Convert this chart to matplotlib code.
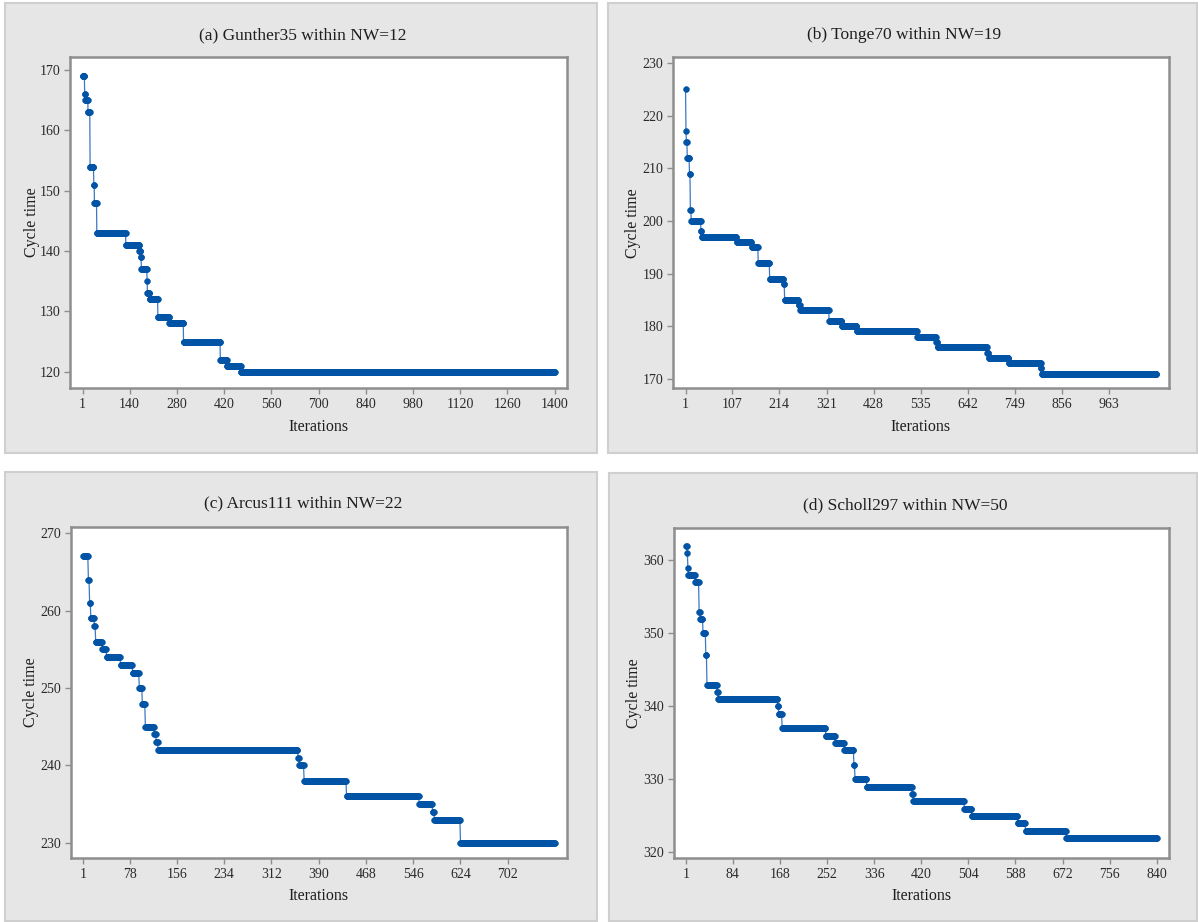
import numpy as np
import matplotlib
matplotlib.use("Agg")
import matplotlib.pyplot as plt
from matplotlib.patches import Rectangle

plt.rcParams['font.family'] = ['Liberation Serif', 'DejaVu Serif']

# ---------------- data (step levels: start iteration -> cycle time) ----------------
titles = ["(a) Gunther35 within NW=12", "(b) Tonge70 within NW=19",
          "(c) Arcus111 within NW=22", "(d) Scholl297 within NW=50"]

n_iter_a = 1400
starts_a = [1, 7, 9, 17, 23, 34, 36, 43, 129, 169, 173, 175, 192, 193, 200, 224, 258, 300, 409, 429, 470]
values_a = [169, 166, 165, 163, 154, 151, 148, 143, 141, 140, 139, 137, 135, 133, 132, 129, 128, 125, 122, 121, 120]
xticks_a = [1, 140, 280, 420, 560, 700, 840, 980, 1120, 1260, 1400]
yticks_a = [120, 130, 140, 150, 160, 170]

n_iter_b = 1070
starts_b = [1, 2, 3, 5, 10, 12, 14, 36, 38, 117, 151, 166, 192, 224, 226, 258, 261, 327, 356, 390,
            527, 570, 573, 686, 689, 735, 808, 810]
values_b = [225, 217, 215, 212, 209, 202, 200, 198, 197, 196, 195, 192, 189, 188, 185, 184, 183, 181, 180, 179,
            178, 177, 176, 175, 174, 173, 172, 171]
xticks_b = [1, 107, 214, 321, 428, 535, 642, 749, 856, 963]
yticks_b = [170, 180, 190, 200, 210, 220, 230]

n_iter_c = 780
starts_c = [1, 10, 12, 14, 20, 22, 33, 40, 63, 83, 94, 99, 104, 119, 122, 125, 356, 358, 366, 436,
            556, 578, 581, 624]
values_c = [267, 264, 261, 259, 258, 256, 255, 254, 253, 252, 250, 248, 245, 244, 243, 242, 241, 240, 238, 236,
            235, 234, 233, 230]
xticks_c = [1, 78, 156, 234, 312, 390, 468, 546, 624, 702]
yticks_c = [230, 240, 250, 260, 270]

n_iter_d = 840
starts_d = [1, 3, 4, 5, 17, 24, 26, 31, 36, 38, 56, 58, 164, 166, 172, 250, 267, 283, 300, 302,
            323, 404, 406, 497, 510, 592, 606, 679]
values_d = [362, 361, 359, 358, 357, 353, 352, 350, 347, 343, 342, 341, 340, 339, 337, 336, 335, 334, 332, 330,
            329, 328, 327, 326, 325, 324, 323, 322]
xticks_d = [1, 84, 168, 252, 336, 420, 504, 588, 672, 756, 840]
yticks_d = [320, 330, 340, 350, 360]

ylims = [(117.3, 172.2), (168.2, 231.1), (228.0, 270.85), (319.2, 364.4)]

# ---------------- layout (pixels) ----------------
W, H = 1198, 922
fig = plt.figure(figsize=(W / 100, H / 100), dpi=100)
fig.patch.set_facecolor('white')

def fx(px):
    return px / W

def fy(py):
    return 1 - py / H

panels = [(5, 3, 597, 453), (608, 3, 1197, 453), (5, 472, 597, 921), (609, 473, 1197, 921)]
axboxes = [(70.4, 56.7, 567, 388), (673.3, 57.3, 1168.7, 388.3),
           (70.7, 526.7, 567.3, 858.3), (674, 528.3, 1169, 858.3)]
title_y = [35, 35, 503, 505]
xlabel_y = [427, 427, 896, 896]
ylabel_x = [31.5, 633, 31, 634]

datasets = [(n_iter_a, starts_a, values_a, xticks_a, yticks_a),
            (n_iter_b, starts_b, values_b, xticks_b, yticks_b),
            (n_iter_c, starts_c, values_c, xticks_c, yticks_c),
            (n_iter_d, starts_d, values_d, xticks_d, yticks_d)]

mcolor = '#0053A5'
lcolor = '#3B79C3'
frame_col = '#8E8E8E'
txt_col = '#1E1E1E'

for i in range(4):
    l, t, r, b = panels[i]
    fig.add_artist(Rectangle((fx(l), fy(b)), (r - l) / W, (b - t) / H, transform=fig.transFigure,
                             facecolor='#E6E6E6', edgecolor='#CFCFCF', lw=1.5, zorder=0))

for i in range(4):
    n, starts, vals, xt, yt = datasets[i]
    al, at, ar, ab = axboxes[i]
    ax = fig.add_axes([fx(al), fy(ab), (ar - al) / W, (ab - at) / H])
    ax.set_facecolor('white')
    it = np.arange(1, n + 1)
    idx = np.searchsorted(np.array(starts), it, side='right') - 1
    y = np.array(vals)[idx]
    ax.plot(it, y, '-', color=lcolor, lw=0.9, zorder=2)
    ax.plot(it, y, 'o', color=mcolor, ms=4.3, mec=mcolor, mew=0.3, zorder=3, linestyle='none')
    span = n - 1
    ax.set_xlim(1 - 0.026 * span, n + 0.026 * span)
    ax.set_ylim(*ylims[i])
    ax.set_xticks(xt)
    ax.set_xticklabels([str(v) for v in xt])
    ax.set_yticks(yt)
    ax.set_yticklabels([str(v) for v in yt])
    for s in ax.spines.values():
        s.set_color(frame_col)
        s.set_linewidth(1.8)
    ax.tick_params(direction='out', length=4, width=1, color=frame_col, labelcolor='#2A2A2A',
                   labelsize=10, pad=3)
    cx = (panels[i][0] + panels[i][2]) / 2
    fig.text(fx(cx + 2), fy(title_y[i]), titles[i], ha='center', va='center', fontsize=12.5, color=txt_col)
    fig.text(fx((al + ar) / 2), fy(xlabel_y[i]), 'Iterations', ha='center', va='center', fontsize=11.5,
             color=txt_col)
    fig.text(fx(ylabel_x[i]), fy((at + ab) / 2), 'Cycle time', ha='center', va='center', rotation=90,
             fontsize=11.5, color=txt_col)

fig.savefig('out.png', dpi=100, facecolor='white')
